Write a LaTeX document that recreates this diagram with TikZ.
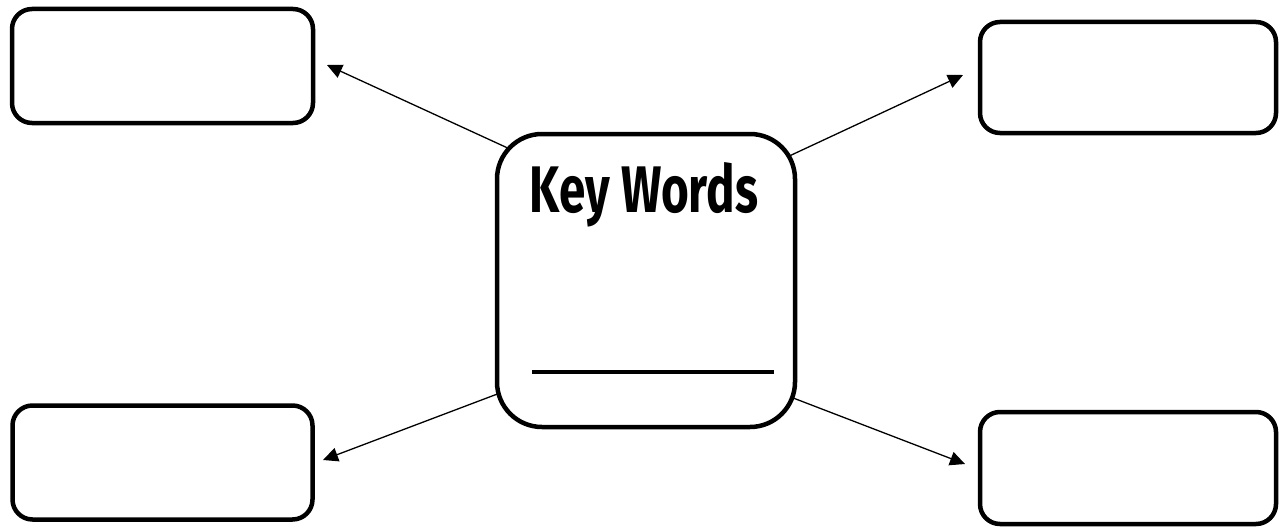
\documentclass[tikz,border=0pt]{standalone}
\usepackage{fontspec}
\newfontfamily\kwfont{Fira Sans}
\usetikzlibrary{arrows.meta}
\tikzset{
  sidebox/.style={draw=black, line width=4.5pt, rounded corners=20pt, rectangle, fill=white, inner sep=0pt},
  centerbox/.style={draw=black, line width=4.5pt, rounded corners=45pt, rectangle, fill=white, inner sep=0pt,
    minimum width=298pt, minimum height=293pt},
  link/.style={line width=1.3pt, -{Triangle[length=15pt,width=14pt]}},
  rule/.style={line width=4.5pt}
}
\begin{document}
\begin{tikzpicture}[x=1pt,y=-1pt]
\useasboundingbox (0,0) rectangle (1279,527);
% arrow end points
\coordinate (s1) at (512,150);
\coordinate (t1) at (327,65);
\coordinate (s2) at (785,158);
\coordinate (t2) at (963,75);
\coordinate (s3) at (500,393);
\coordinate (t3) at (323,460);
\coordinate (s4) at (788,396);
\coordinate (t4) at (965,464);
\draw[link] (s1) -- (t1);
\draw[link] (s2) -- (t2);
\draw[link] (s3) -- (t3);
\draw[link] (s4) -- (t4);
% boxes
\node[sidebox, minimum width=301pt, minimum height=114pt] (tl) at (162.5,66) {};
\node[sidebox, minimum width=296pt, minimum height=111pt] (tr) at (1128,77.5) {};
\node[sidebox, minimum width=300pt, minimum height=114pt] (bl) at (162.5,462.5) {};
\node[sidebox, minimum width=296pt, minimum height=112pt] (br) at (1128,468) {};
\node[centerbox] (kw) at (646,280.5) {};
\node[anchor=base, inner sep=0pt] (title) at (644,212)
  {\resizebox{228pt}{50pt}{\kwfont\bfseries Key Words}};
\coordinate (r1) at (532,372);
\coordinate (r2) at (774,372);
\draw[rule] (r1) -- (r2);
\end{tikzpicture}
\end{document}
